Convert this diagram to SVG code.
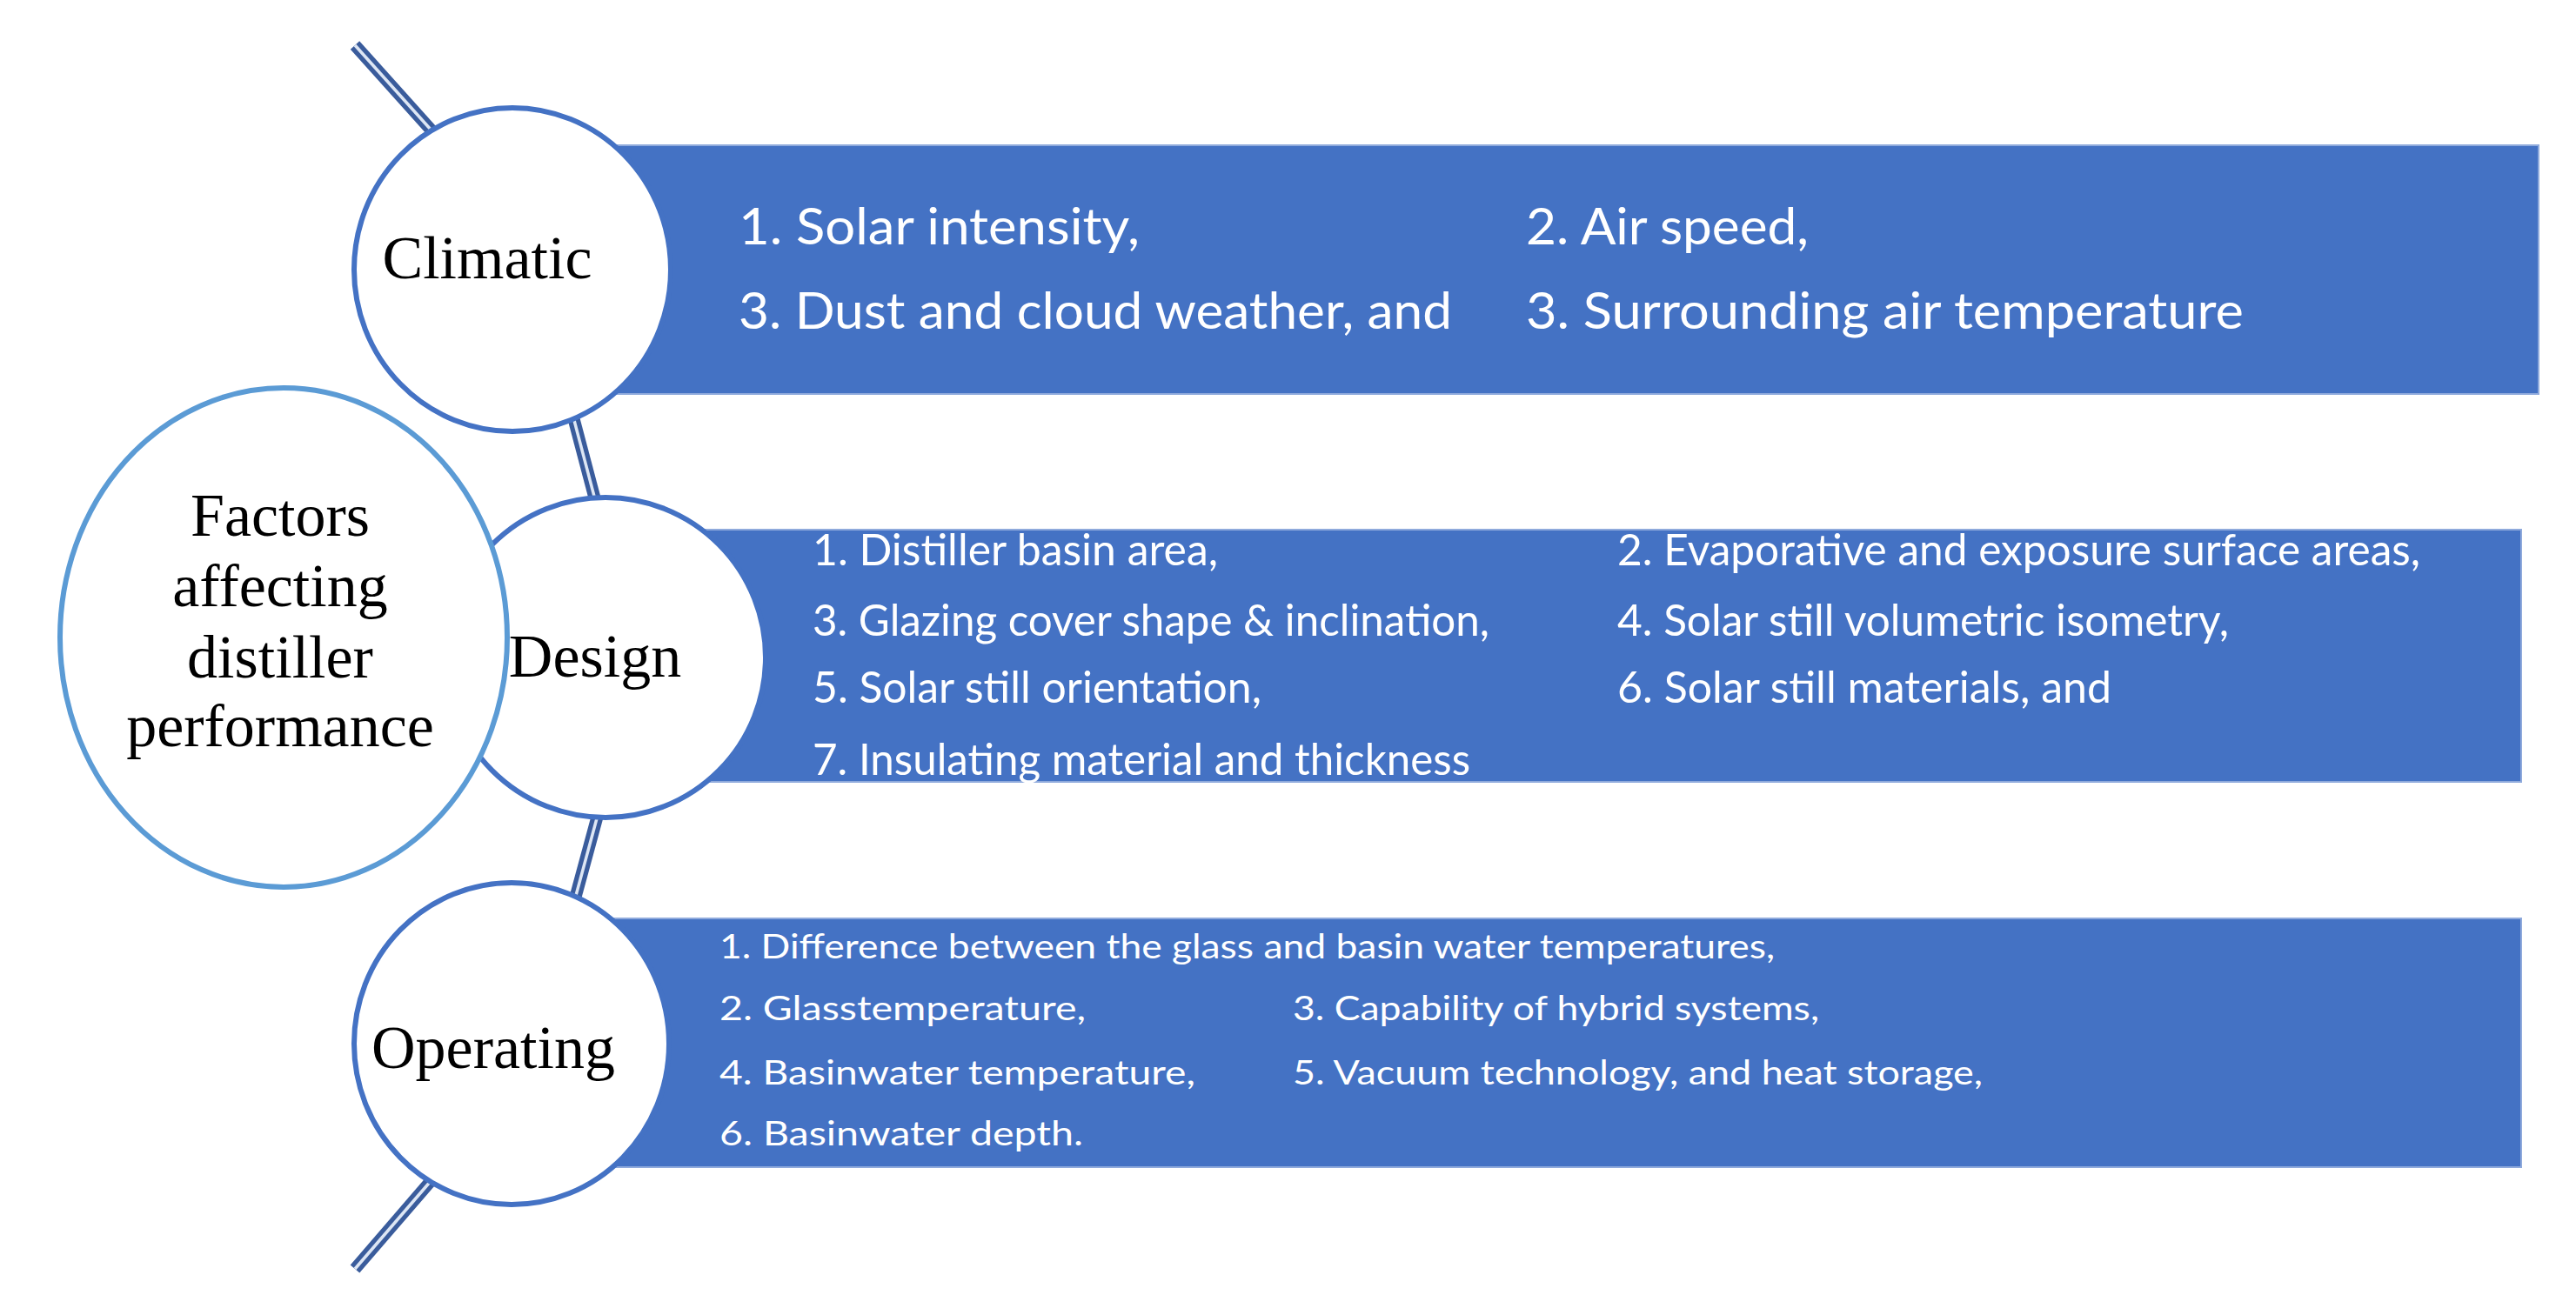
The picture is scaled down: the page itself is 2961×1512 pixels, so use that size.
<svg xmlns="http://www.w3.org/2000/svg" width="2961" height="1512" viewBox="0 0 2961 1512">
<style>
.bar{fill:#4472C4;stroke:#8FAADC;stroke-width:2}
.ring{fill:#FFFFFF;stroke:#4472C4;stroke-width:6}
.main{fill:#FFFFFF;stroke:#5B9BD5;stroke-width:6}
.lbl{font-family:"Liberation Serif","Times New Roman",serif;font-size:70px;fill:#000000;text-anchor:middle}
.t1{font-family:Lato,"Liberation Sans",sans-serif;font-size:58px;fill:#FFFFFF}
.t2{font-family:Lato,"Liberation Sans",sans-serif;font-size:50px;fill:#FFFFFF}
.t3{font-family:Lato,"Liberation Sans",sans-serif;font-size:39px;fill:#FFFFFF}
.cOut{stroke:#3A5C9C;stroke-width:14;fill:none;stroke-linecap:butt}
.cIn{stroke:#DDE6F4;stroke-width:3.5;fill:none;stroke-linecap:butt}
</style>
<rect width="2961" height="1512" fill="#FFFFFF"/>
<g id="connectors">
<line class="cOut" x1="408" y1="52" x2="505" y2="160"/>
<line class="cIn" x1="408" y1="52" x2="505" y2="160"/>
<line class="cOut" x1="657" y1="472" x2="686" y2="582"/>
<line class="cIn" x1="657" y1="472" x2="686" y2="582"/>
<line class="cOut" x1="689" y1="930" x2="660" y2="1037"/>
<line class="cIn" x1="689" y1="930" x2="660" y2="1037"/>
<line class="cOut" x1="502" y1="1350" x2="408" y2="1459"/>
<line class="cIn" x1="502" y1="1350" x2="408" y2="1459"/>
</g>
<g id="climatic">
<rect class="bar" x="589" y="167" width="2329" height="286"/>
<ellipse class="ring" cx="589" cy="310" rx="182" ry="186"/>
<text class="lbl" x="560" y="320">Climatic</text>
<text class="t1" x="849" y="281" textLength="461" lengthAdjust="spacingAndGlyphs">1. Solar intensity,</text>
<text class="t1" x="1754" y="281" textLength="325" lengthAdjust="spacingAndGlyphs">2. Air speed,</text>
<text class="t1" x="849" y="378" textLength="820" lengthAdjust="spacingAndGlyphs">3. Dust and cloud weather, and</text>
<text class="t1" x="1754" y="378" textLength="825" lengthAdjust="spacingAndGlyphs">3. Surrounding air temperature</text>
</g>
<g id="design">
<rect class="bar" x="696" y="609" width="2202" height="290"/>
<ellipse class="ring" cx="696" cy="756" rx="184" ry="184"/>
<text class="t2" x="934" y="650" textLength="466" lengthAdjust="spacingAndGlyphs">1. Distiller basin area,</text>
<text class="t2" x="1859" y="650" textLength="923" lengthAdjust="spacingAndGlyphs">2. Evaporative and exposure surface areas,</text>
<text class="t2" x="934" y="731" textLength="778" lengthAdjust="spacingAndGlyphs">3. Glazing cover shape &amp; inclination,</text>
<text class="t2" x="1859" y="731" textLength="703" lengthAdjust="spacingAndGlyphs">4. Solar still volumetric isometry,</text>
<text class="t2" x="934" y="808" textLength="516" lengthAdjust="spacingAndGlyphs">5. Solar still orientation,</text>
<text class="t2" x="1859" y="808" textLength="568" lengthAdjust="spacingAndGlyphs">6. Solar still materials, and</text>
<text class="t2" x="934" y="891" textLength="756" lengthAdjust="spacingAndGlyphs">7. Insulating material and thickness</text>
</g>
<g id="operating">
<rect class="bar" x="588" y="1056" width="2310" height="286"/>
<ellipse class="ring" cx="588" cy="1200" rx="181" ry="185"/>
<text class="lbl" x="567" y="1228">Operating</text>
<text class="t3" x="827" y="1102" textLength="1213" lengthAdjust="spacingAndGlyphs">1. Difference between the glass and basin water temperatures,</text>
<text class="t3" x="827" y="1173" textLength="421" lengthAdjust="spacingAndGlyphs">2. Glasstemperature,</text>
<text class="t3" x="1486" y="1173" textLength="605" lengthAdjust="spacingAndGlyphs">3. Capability of hybrid systems,</text>
<text class="t3" x="827" y="1247" textLength="547" lengthAdjust="spacingAndGlyphs">4. Basinwater temperature,</text>
<text class="t3" x="1486" y="1247" textLength="793" lengthAdjust="spacingAndGlyphs">5. Vacuum technology, and heat storage,</text>
<text class="t3" x="827" y="1317" textLength="418" lengthAdjust="spacingAndGlyphs">6. Basinwater depth.</text>
</g>
<g id="factors">
<ellipse class="main" cx="326" cy="733" rx="257" ry="287"/>
<text class="lbl" x="322" y="616">Factors</text>
<text class="lbl" x="322" y="697">affecting</text>
<text class="lbl" x="322" y="779">distiller</text>
<text class="lbl" x="322" y="858">performance</text>
</g>
<g id="design-label">
<text class="lbl" x="684" y="778">Design</text>
</g>
</svg>
